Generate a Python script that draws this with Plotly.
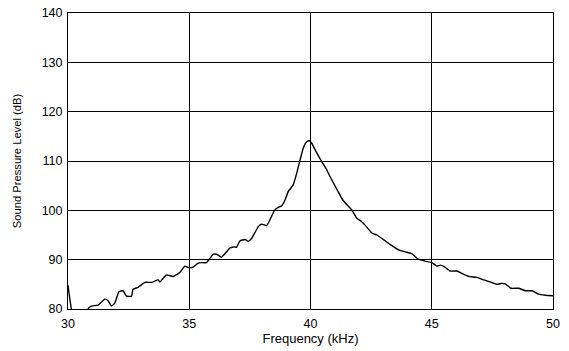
import plotly.graph_objects as go

freq_khz = [
    30.0, 30.14, 30.3, 30.6, 30.87, 30.97, 31.24, 31.52, 31.65, 31.79, 31.93,
    32.1, 32.27, 32.41, 32.62, 32.68, 32.89, 33.17, 33.44, 33.72, 33.79, 34.06,
    34.34, 34.61, 34.82, 34.96, 35.16, 35.37, 35.51, 35.71, 35.99, 36.13, 36.33,
    36.54, 36.68, 36.88, 36.95, 37.09, 37.3, 37.43, 37.57, 37.85, 37.98, 38.19,
    38.26, 38.53, 38.67, 38.81, 38.95, 39.08, 39.29, 39.43, 39.57, 39.7, 39.84,
    39.95, 40.05, 40.23, 40.46, 40.67, 40.81, 41.05, 41.33, 41.7, 41.91, 42.11,
    42.25, 42.53, 42.74, 43.0, 43.28, 43.63, 43.97, 44.18, 44.45, 44.73, 45.0,
    45.21, 45.35, 45.51, 45.76, 46.04, 46.24, 46.52, 46.86, 47.14, 47.41, 47.69,
    47.89, 48.03, 48.27, 48.58, 48.86, 49.13, 49.41, 49.68, 50.0,
]
spl_db = [
    84.8, 80.0, 77.5, 77.8, 80.3, 80.6, 80.8, 82.0, 81.7, 80.6, 81.2,
    83.5, 83.7, 82.6, 82.6, 84.0, 84.4, 85.4, 85.4, 85.9, 85.5, 86.9,
    86.6, 87.4, 88.7, 88.4, 88.5, 89.3, 89.4, 89.4, 91.1, 91.1, 90.5,
    91.6, 92.4, 92.6, 92.5, 93.8, 94.1, 93.7, 94.3, 96.7, 97.2, 96.9,
    97.4, 100.1, 100.6, 100.9, 102.1, 103.8, 105.2, 107.5, 110.2, 112.6, 113.9,
    114.1, 113.6, 111.9, 109.9, 108.2, 106.8, 104.6, 102.1, 100.1, 98.4, 97.7,
    97.0, 95.4, 95.0, 94.1, 93.1, 92.0, 91.5, 91.2, 90.1, 89.7, 89.4,
    88.7, 88.9, 88.6, 87.7, 87.7, 87.2, 86.6, 86.4, 85.9, 85.5, 85.0,
    85.2, 85.1, 84.2, 84.2, 83.7, 83.7, 83.0, 82.8, 82.7,
]

x_ticks = [30, 35, 40, 45, 50]
y_ticks = [80, 90, 100, 110, 120, 130, 140]

fig = go.Figure()

fig.add_trace(go.Scatter(
    x=freq_khz,
    y=spl_db,
    mode='lines',
    line=dict(color='black', width=1.4, shape='spline', smoothing=0.4),
    showlegend=False
))

axis_common = dict(
    showgrid=True,
    gridcolor='black',
    gridwidth=1,
    showline=True,
    linecolor='black',
    linewidth=1,
    mirror=True,
    ticks='',
    zeroline=False,
    automargin=False,
    tickfont=dict(size=12.5, color='black'),
)

fig.update_layout(
    width=569,
    height=351,
    margin=dict(l=68, r=16, t=13, b=42),
    paper_bgcolor='white',
    plot_bgcolor='white',
    font=dict(family='Liberation Sans, Arial, sans-serif', size=12, color='black'),
    xaxis=dict(
        range=[30, 50],
        tickvals=x_ticks,
        ticklabelstandoff=3,
        title=dict(text='Frequency (kHz)', font=dict(size=13), standoff=0),
        **axis_common
    ),
    yaxis=dict(
        range=[80, 140],
        tickvals=y_ticks,
        ticklabelstandoff=2,
        title=dict(text='Sound Pressure Level (dB)', font=dict(size=11.2), standoff=17),
        **axis_common
    ),
)

# drop the default page margin so the figure sits at the window origin
fig.write_html(
    "out.html",
    config={'displayModeBar': False},
    post_script="document.body.style.margin='0';",
)
